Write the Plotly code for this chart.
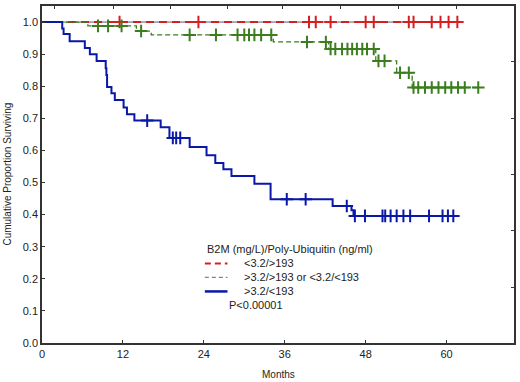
import plotly.graph_objects as go

# ---------------- data ----------------
red_times = [0, 61.6]
red_surv = [1.0, 1.0]
red_censor = [11.5, 23.2, 39.6, 40.6, 42.8, 48.0, 49.2, 54.4, 55.1, 57.8, 59.1, 60.3, 61.6]

green_times = [0, 6.8, 14.0, 16.2, 34.3, 42.5, 49.5, 52.6, 54.9, 64.7]
green_surv = [1.0, 0.988, 0.972, 0.960, 0.938, 0.916, 0.879, 0.842, 0.796, 0.796]
green_censor = [8.3, 9.8, 11.8, 14.7, 21.9, 25.8, 29.0, 30.0, 30.7, 31.5, 32.5, 34.0,
                39.3, 42.1, 42.8, 43.5, 44.5, 45.3, 46.0, 46.7, 47.5, 48.2, 49.2,
                49.9, 50.8, 53.1, 54.4, 55.1, 55.8, 56.8, 57.8, 58.8, 59.8, 60.7,
                61.7, 62.7, 64.7]

blue_times = [0, 3.0, 3.2, 4.1, 6.35, 7.1, 8.1, 9.45, 9.55, 9.65, 10.3, 10.8, 12.1, 12.6,
              13.7, 17.6, 18.9, 21.9, 24.4, 25.7, 26.9, 28.1, 31.5, 33.9, 43.1, 45.9,
              46.2, 61.3]
blue_surv = [1.0, 0.98, 0.963, 0.94, 0.919, 0.90, 0.879, 0.856, 0.835, 0.798, 0.778, 0.757,
             0.734, 0.713, 0.693, 0.672, 0.639, 0.611, 0.585, 0.561, 0.541, 0.52, 0.496,
             0.448, 0.427, 0.414, 0.396, 0.396]
blue_censor = [15.6, 19.4, 19.9, 20.5, 36.3, 39.1, 45.2, 46.4, 47.9, 50.5, 50.9, 51.7,
               52.6, 53.6, 54.6, 57.4, 59.4, 60.2, 61.0]

x_ticks = [0, 12, 24, 36, 48, 60]
y_ticks = [0.0, 0.1, 0.2, 0.3, 0.4, 0.5, 0.6, 0.7, 0.8, 0.9, 1.0]
top_ticks = [1.9, 10.6, 19.05, 27.5, 35.7, 44.3, 52.9, 61.4]
right_ticks = [0.173, 0.35, 0.526, 0.70, 0.876]

x_title = "Months"
y_title = "Cumulative Proportion Surviving"
legend_title = "B2M (mg/L)/Poly-Ubiquitin (ng/ml)"
legend_labels = ["<3.2/>193", ">3.2/>193 or <3.2/<193", ">3.2/<193"]
p_text = "P<0.00001"

RED = "#d42020"
GREEN = "#3b7d1f"
BLUE = "#0a18a8"
FONT = "Liberation Sans, Arial, sans-serif"


def surv_at(times, surv, t):
    val = surv[0]
    for ti, si in zip(times, surv):
        if ti <= t:
            val = si
    return val


fig = go.Figure()

# red series: thin dark line under red dashes
fig.add_trace(go.Scatter(x=red_times, y=red_surv, mode="lines", line_shape="hv",
                         line=dict(color="#5a5a7a", width=1), hoverinfo="skip"))
fig.add_trace(go.Scatter(x=red_times, y=red_surv, mode="lines", line_shape="hv",
                         line=dict(color=RED, width=2, dash="8px,5px")))
fig.add_trace(go.Scatter(x=green_times, y=green_surv, mode="lines", line_shape="hv",
                         line=dict(color=GREEN, width=1.3, dash="5px,3px")))
fig.add_trace(go.Scatter(x=blue_times, y=blue_surv, mode="lines", line_shape="hv",
                         line=dict(color=BLUE, width=2)))

for times, surv, cens, col in [(red_times, red_surv, red_censor, RED),
                               (green_times, green_surv, green_censor, GREEN),
                               (blue_times, blue_surv, blue_censor, BLUE)]:
    fig.add_trace(go.Scatter(x=cens, y=[surv_at(times, surv, t) for t in cens],
                             mode="markers",
                             marker=dict(symbol="cross-thin", size=9,
                                         line=dict(color=col, width=2))))

# invisible trace to carry the secondary (tick-only) axes
fig.add_trace(go.Scatter(x=[0], y=[0], xaxis="x2", yaxis="y2", mode="markers",
                         marker=dict(opacity=0), hoverinfo="skip"))

# manual legend (paper coordinates of the plot area)
shapes = []
annotations = []
leg_x0, leg_x1, txt_x = 0.345, 0.393, 0.423
rows_y = [0.236, 0.195, 0.153]
styles = [dict(color=RED, width=2, dash="6px,4px"),
          dict(color="#7a8a7a", width=1.3, dash="4px,3px"),
          dict(color=BLUE, width=2.5)]
annotations.append(dict(x=leg_x0, y=0.280, xref="paper", yref="paper", text=legend_title,
                        showarrow=False, xanchor="left", yanchor="middle",
                        font=dict(size=11, color="#222", family=FONT)))
for yy, lab, st in zip(rows_y, legend_labels, styles):
    shapes.append(dict(type="line", xref="paper", yref="paper", x0=leg_x0, x1=leg_x1,
                       y0=yy, y1=yy, line=st))
    annotations.append(dict(x=txt_x, y=yy, xref="paper", yref="paper", text=lab,
                            showarrow=False, xanchor="left", yanchor="middle",
                            font=dict(size=11, color="#222", family=FONT)))
annotations.append(dict(x=0.393, y=0.112, xref="paper", yref="paper", text=p_text,
                        showarrow=False, xanchor="left", yanchor="middle",
                        font=dict(size=11, color="#222", family=FONT)))
# axis titles
annotations.append(dict(x=-0.074, y=0.5, xref="paper", yref="paper", text=y_title,
                        textangle=-90, showarrow=False, xanchor="center",
                        yanchor="middle", font=dict(size=10, color="#222", family=FONT)))
annotations.append(dict(x=0.5, y=-0.094, xref="paper", yref="paper", text=x_title,
                        showarrow=False, xanchor="center", yanchor="middle",
                        font=dict(size=10, color="#222", family=FONT)))

fig.update_layout(
    width=520, height=382,
    margin=dict(l=42, r=5, t=4, b=39),
    paper_bgcolor="white", plot_bgcolor="white",
    showlegend=False,
    font=dict(family=FONT, size=11, color="#222"),
    shapes=shapes, annotations=annotations,
    xaxis=dict(range=[0, 70], tickvals=x_ticks, ticks="inside", ticklen=3,
               tickcolor="#333", showline=True, linecolor="#333", linewidth=1.5,
               mirror=True, showgrid=False, zeroline=False),
    yaxis=dict(range=[0, 1.05], tickvals=y_ticks, tickformat=".1f", ticks="inside",
               ticklen=3, tickcolor="#333", showline=True, linecolor="#333",
               linewidth=1.5, mirror=True, showgrid=False, zeroline=False),
    xaxis2=dict(range=[0, 70], overlaying="x", side="top", tickvals=top_ticks,
                ticks="inside", ticklen=3, tickcolor="#333", showticklabels=False,
                showgrid=False, zeroline=False, showline=False),
    yaxis2=dict(range=[0, 1.05], overlaying="y", side="right", tickvals=right_ticks,
                ticks="inside", ticklen=3, tickcolor="#333", showticklabels=False,
                showgrid=False, zeroline=False, showline=False),
)

fig.write_html("out.html", config={"displayModeBar": False},
               post_script="document.body.style.margin='0px';")
